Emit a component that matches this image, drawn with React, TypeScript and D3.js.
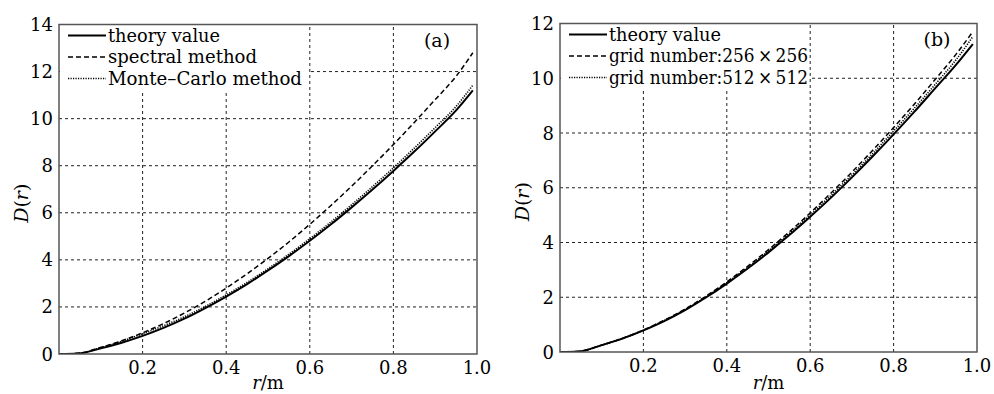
import React from "react";
import * as d3 from "d3";

const rA = [0, 0.045, 0.1, 0.15, 0.2, 0.25, 0.3, 0.35, 0.4, 0.45, 0.5, 0.55, 0.6, 0.65, 0.7, 0.75, 0.8, 0.85, 0.9, 0.95, 0.99];
const theoryA = [0, 0.02, 0.24, 0.48, 0.77, 1.11, 1.5, 1.95, 2.44, 2.97, 3.55, 4.16, 4.81, 5.5, 6.23, 6.99, 7.78, 8.6, 9.46, 10.35, 11.2];
const spectralA = [0, 0.03, 0.28, 0.56, 0.9, 1.29, 1.74, 2.24, 2.8, 3.41, 4.06, 4.76, 5.51, 6.3, 7.13, 8.0, 8.9, 9.84, 10.81, 11.8, 12.8];
const monteCarloA = [0, 0.02, 0.27, 0.54, 0.86, 1.2, 1.58, 2.02, 2.51, 3.04, 3.62, 4.24, 4.9, 5.6, 6.34, 7.11, 7.91, 8.75, 9.62, 10.52, 11.42];

const rB = [0, 0.045, 0.1, 0.15, 0.2, 0.25, 0.3, 0.35, 0.4, 0.45, 0.5, 0.55, 0.6, 0.65, 0.7, 0.75, 0.8, 0.85, 0.9, 0.95, 0.99];
const theoryB = [0, 0.02, 0.25, 0.49, 0.79, 1.13, 1.53, 1.99, 2.5, 3.05, 3.64, 4.27, 4.94, 5.64, 6.38, 7.15, 7.95, 8.78, 9.64, 10.5, 11.25];
const grid256B = [0, 0.02, 0.25, 0.5, 0.8, 1.16, 1.57, 2.04, 2.56, 3.13, 3.74, 4.39, 5.08, 5.81, 6.57, 7.37, 8.2, 9.06, 9.96, 10.88, 11.7];
const grid512B = [0, 0.02, 0.25, 0.5, 0.8, 1.15, 1.55, 2.02, 2.53, 3.09, 3.69, 4.33, 5.01, 5.72, 6.47, 7.25, 8.07, 8.91, 9.78, 10.68, 11.52];

const xTicks = [0.2, 0.4, 0.6, 0.8, 1.0];
const yTicksA = [0, 2, 4, 6, 8, 10, 12, 14];
const yTicksB = [0, 2, 4, 6, 8, 10, 12];
const legendA = ["theory value", "spectral method", "Monte\u2013Carlo method"];
const legendB = ["theory value", "grid number:256\u2009\u00d7\u2009256", "grid number:512\u2009\u00d7\u2009512"];
const legendWidthsA = [112, 149, 194];
const legendWidthsB = [112, 199, 199];

const FONT = "'DejaVu Serif', 'Liberation Serif', serif";
const styles = [
  { dash: "none", width: 2 },
  { dash: "5,3", width: 1.5 },
  { dash: "1.2,1.3", width: 1.6 },
];

type PanelProps = {
  left: number; right: number; bottom: number; top: number; yMax: number;
  yTicks: number[]; r: number[]; series: number[][]; legend: string[]; legendWidths: number[];
  tag: string; legendW: number; clipId: string;
};

function Panel(p: PanelProps) {
  const x = d3.scaleLinear().domain([0, 1]).range([p.left, p.right]);
  const y = d3.scaleLinear().domain([0, p.yMax]).range([p.bottom, p.top]);
  const line = d3.line<number>().x((_, i) => x(p.r[i])).y((d) => y(d)).curve(d3.curveMonotoneX);
  const legendH = 66;
  const cx = (p.left + p.right) / 2;
  const cy = (p.top + p.bottom) / 2;
  return (
    <g>
      <defs>
        <clipPath id={p.clipId}>
          <rect x={p.left} y={p.top} width={p.right - p.left} height={p.bottom - p.top} />
        </clipPath>
      </defs>
      {xTicks.slice(0, -1).map((t) => (
        <line key={"gx" + t} x1={x(t)} x2={x(t)} y1={p.bottom} y2={p.top} stroke="#222" strokeWidth={1} strokeDasharray="3,3" />
      ))}
      {p.yTicks.slice(1, -1).map((t) => (
        <line key={"gy" + t} x1={p.left} x2={p.right} y1={y(t)} y2={y(t)} stroke="#222" strokeWidth={1} strokeDasharray="3,3" />
      ))}
      <rect x={p.left + 1} y={p.top + 1} width={p.legendW} height={legendH} fill="#fff" />
      <g clipPath={`url(#${p.clipId})`}>
        {p.series.map((s, i) => (
          <path key={i} d={line(s) || ""} fill="none" stroke="#000" strokeWidth={styles[i].width} strokeDasharray={styles[i].dash} />
        ))}
      </g>
      <rect x={p.left} y={p.top} width={p.right - p.left} height={p.bottom - p.top} fill="none" stroke="#555" strokeWidth={1.5} />
      {xTicks.map((t) => (
        <text key={"tx" + t} x={x(t)} y={p.bottom + 20} textAnchor="middle" fontFamily={FONT} fontSize={18}>
          {t.toFixed(1)}
        </text>
      ))}
      {p.yTicks.map((t) => (
        <text key={"ty" + t} x={p.left - 6} y={y(t) + 6.5} textAnchor="end" fontFamily={FONT} fontSize={18}>
          {t}
        </text>
      ))}
      <text x={cx} y={389} textAnchor="middle" fontFamily={FONT} fontSize={18}>
        <tspan fontStyle="italic">r</tspan>/m
      </text>
      <text transform={`translate(${p.left - 31},${cy + 14}) rotate(-90)`} textAnchor="middle" fontFamily={FONT} fontSize={19}>
        <tspan fontStyle="italic">D</tspan>(<tspan fontStyle="italic">r</tspan>)
      </text>
      {p.legend.map((lab, i) => {
        const ly = p.top + 11 + i * 21.5;
        return (
          <g key={lab}>
            <line x1={p.left + 9} x2={p.left + 47} y1={ly} y2={ly} stroke="#000" strokeWidth={styles[i].width} strokeDasharray={styles[i].dash} />
            <text x={p.left + 49} y={ly + 6} fontFamily={FONT} fontSize={18} textLength={p.legendWidths[i]} lengthAdjust="spacingAndGlyphs">{lab}</text>
          </g>
        );
      })}
      <text x={p.right - 40} y={p.top + 22} textAnchor="middle" fontFamily={FONT} fontSize={19}>{p.tag}</text>
    </g>
  );
}

export default function App() {
  return (
    <svg width={994} height={394} style={{ position: "absolute", left: 0, top: 0, background: "#fff" }}>
      <rect width={994} height={394} fill="#fff" />
      <Panel left={59} right={477} bottom={354} top={24.5} yMax={14} yTicks={yTicksA} r={rA}
        series={[theoryA, spectralA, monteCarloA]} legend={legendA} legendWidths={legendWidthsA} tag="(a)" legendW={249} clipId="cpa" />
      <Panel left={560} right={977} bottom={352} top={23.5} yMax={12} yTicks={yTicksB} r={rB}
        series={[theoryB, grid256B, grid512B]} legend={legendB} legendWidths={legendWidthsB} tag="(b)" legendW={248} clipId="cpb" />
    </svg>
  );
}
